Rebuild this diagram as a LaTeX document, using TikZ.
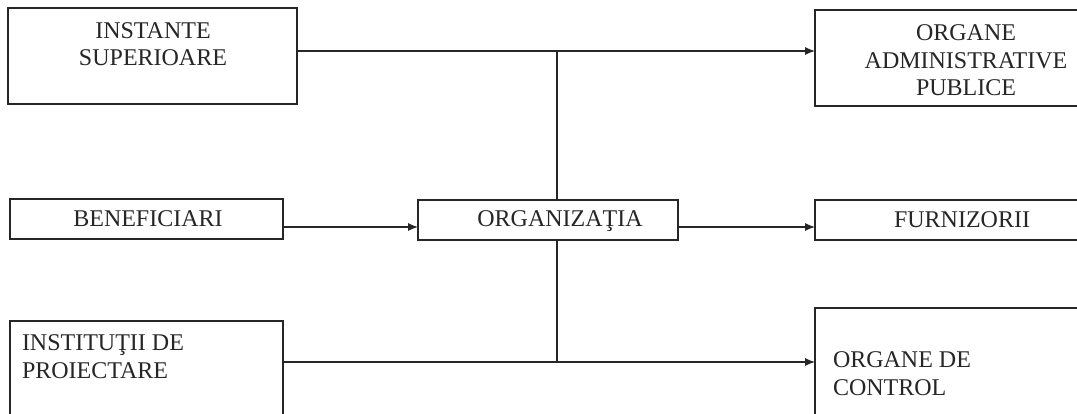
\documentclass[tikz,border=0pt]{standalone}
\usepackage{fontspec}
\setmainfont{Liberation Serif}
\usetikzlibrary{arrows.meta}
\begin{document}
\begin{tikzpicture}[x=1pt,y=-1pt,
  box/.style={draw=black!85, line width=1.1pt, rectangle, inner sep=0pt, outer sep=0pt},
  lbl/.style={inner sep=0pt, outer sep=0pt, text=black!85, font=\fontsize{24}{27.5}\selectfont},
  conn/.style={draw=black!85, line width=1.1pt},
  arr/.style={conn, -{Latex[length=10pt,width=8pt]}}]
\clip (0,0) rectangle (1077,414);
\fill[white] (0,0) rectangle (1077,414);
% boxes
\node[box, minimum width=289pt, minimum height=96pt] (inst) at (152.5,56) {};
\node[box, minimum width=302pt, minimum height=96pt] (adm) at (966,58) {};
\node[box, minimum width=273pt, minimum height=40pt] (benef) at (146.5,219) {};
\node[box, minimum width=260pt, minimum height=40pt] (org) at (548,220) {};
\node[box, minimum width=302pt, minimum height=40pt] (furn) at (966,220) {};
\node[box, minimum width=273pt, minimum height=110pt] (instit) at (146.5,376) {};
\node[box, minimum width=302pt, minimum height=122pt] (ctrl) at (966,369) {};
% texts
\node[lbl, anchor=north, align=center] (tinst) at (153,22.5) {INSTANTE\\SUPERIOARE};
\node[lbl, anchor=north, align=center] (tadm) at (966,25) {ORGANE\\ADMINISTRATIVE\\PUBLICE};
\node[lbl, anchor=base] (tbenef) at (148,227) {BENEFICIARI};
\node[lbl, anchor=base] (torg) at (560,227) {ORGANIZAŢIA};
\node[lbl, anchor=base] (tfurn) at (962,228) {FURNIZORII};
\node[lbl, anchor=north west, align=left] (tinstit) at (22,335) {INSTITUŢII DE\\PROIECTARE};
\node[lbl, anchor=north west, align=left] (tctrl) at (833,352) {ORGANE DE\\CONTROL};
% junctions
\coordinate (jtop) at (557,51);
\coordinate (jmid) at (557,227);
\coordinate (jbot) at (557,362);
% connectors
\draw[arr] (jtop -| inst.east) -- (jtop -| adm.west);
\draw[conn] (jtop) -- (org.north -| jtop);
\draw[arr] (jmid -| benef.east) -- (jmid -| org.west);
\draw[arr] (jmid -| org.east) -- (jmid -| furn.west);
\draw[conn] (org.south -| jbot) -- (jbot);
\draw[arr] (jbot -| instit.east) -- (jbot -| ctrl.west);
\end{tikzpicture}
\end{document}
